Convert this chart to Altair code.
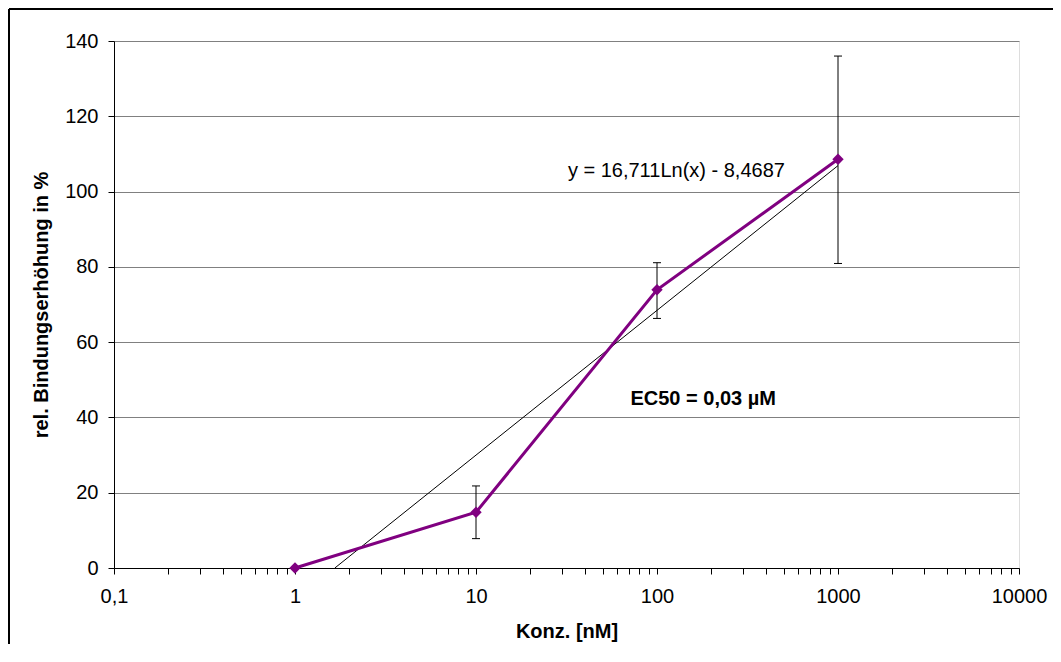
import altair as alt
import pandas as pd

# Measured series
conc = [1, 10, 100, 1000]
binding = [0.0, 14.8, 73.9, 108.6]
err_low = [0.0, 7.8, 66.3, 80.9]
err_high = [0.0, 21.8, 81.1, 136.0]

# Logarithmic trend line (as drawn, clipped at 0)
trend_x = [1.66, 1000]
trend_y = [0.0, 106.9]

major_ticks = [0.1, 1, 10, 100, 1000, 10000]
major_labels = ["0,1", "1", "10", "100", "1000", "10000"]
y_ticks = [0, 20, 40, 60, 80, 100, 120, 140]

equation_text = "y = 16,711Ln(x) - 8,4687"
equation_pos = (128, 105.5)
ec50_text = "EC50 = 0,03 µM"
ec50_pos = (180, 44.9)

FONT = "Liberation Sans"
FS = 20
PURPLE = "#800080"
W, H = 905, 527

minor_ticks = [m * 10 ** e for e in range(-1, 4) for m in range(1, 10)] + [10000]

label_expr = "".join(
    f"abs(datum.value - {v}) < {v * 1e-6} ? '{l}' : " for v, l in zip(major_ticks, major_labels)
) + "''"

xscale = alt.Scale(type="log", domain=[0.1, 10000], nice=False)
yscale = alt.Scale(domain=[0, 140], nice=False)

xaxis = alt.Axis(
    values=minor_ticks, labelExpr=label_expr, labelOverlap=False, labelFlush=False,
    grid=False, domainColor="black", tickColor="black", tickSize=6, tickWidth=1,
    labelFont=FONT, labelFontSize=FS, labelColor="black", labelPadding=12,
    title="Konz. [nM]", titleFont=FONT, titleFontSize=FS, titleFontWeight="bold",
    titleColor="black", titlePadding=15,
)
yaxis = alt.Axis(
    values=y_ticks, grid=True, gridColor="#808080", gridWidth=1,
    domainColor="black", tickColor="black", tickSize=6, tickWidth=1,
    labelFont=FONT, labelFontSize=FS, labelColor="black", labelPadding=10,
    title="rel. Bindungserhöhung in %", titleFont=FONT, titleFontSize=FS,
    titleFontWeight="bold", titleColor="black", titlePadding=13,
)

df = pd.DataFrame({"x": conc, "y": binding, "lo": err_low, "hi": err_high})
df_err = df[df["hi"] > df["lo"]]
df_trend = pd.DataFrame({"x": trend_x, "y": trend_y})
df_eq = pd.DataFrame({"x": [equation_pos[0]], "y": [equation_pos[1]], "t": [equation_text]})
df_ec = pd.DataFrame({"x": [ec50_pos[0]], "y": [ec50_pos[1]], "t": [ec50_text]})

trend = alt.Chart(df_trend).mark_line(color="black", strokeWidth=1).encode(
    x=alt.X("x:Q", scale=xscale, axis=xaxis),
    y=alt.Y("y:Q", scale=yscale, axis=yaxis),
)

err_rule = alt.Chart(df_err).mark_rule(color="black", strokeWidth=1).encode(
    x=alt.X("x:Q", scale=xscale), y=alt.Y("lo:Q", scale=yscale), y2="hi:Q"
)
cap_shape = "M -1 0 L 1 0"
cap_lo = alt.Chart(df_err).mark_point(shape=cap_shape, filled=False, stroke="black",
                                      strokeWidth=1, size=64, opacity=1).encode(
    x=alt.X("x:Q", scale=xscale), y=alt.Y("lo:Q", scale=yscale)
)
cap_hi = alt.Chart(df_err).mark_point(shape=cap_shape, filled=False, stroke="black",
                                      strokeWidth=1, size=64, opacity=1).encode(
    x=alt.X("x:Q", scale=xscale), y=alt.Y("hi:Q", scale=yscale)
)

line = alt.Chart(df).mark_line(color=PURPLE, strokeWidth=3).encode(
    x=alt.X("x:Q", scale=xscale), y=alt.Y("y:Q", scale=yscale)
)
pts = alt.Chart(df).mark_point(shape="diamond", filled=True, color=PURPLE, size=130, opacity=1).encode(
    x=alt.X("x:Q", scale=xscale), y=alt.Y("y:Q", scale=yscale)
)

eq = alt.Chart(df_eq).mark_text(font=FONT, fontSize=FS, color="black", align="center",
                                baseline="middle").encode(
    x=alt.X("x:Q", scale=xscale), y=alt.Y("y:Q", scale=yscale), text="t:N"
)
ec = alt.Chart(df_ec).mark_text(font=FONT, fontSize=FS, fontWeight="bold", color="black",
                                align="center", baseline="middle").encode(
    x=alt.X("x:Q", scale=xscale), y=alt.Y("y:Q", scale=yscale), text="t:N"
)

border_left = alt.Chart(df_eq).mark_rule(stroke="black", strokeWidth=2, clip=False).encode(
    x=alt.value(-105), y=alt.value(-32), y2=alt.value(620)
)
border_top = alt.Chart(df_eq).mark_rule(stroke="black", strokeWidth=2, clip=False).encode(
    x=alt.value(-105), x2=alt.value(1000), y=alt.value(-32)
)

chart = alt.layer(trend, err_rule, cap_lo, cap_hi, line, pts, eq, ec,
                  border_left, border_top).properties(
    width=W, height=H,
    autosize=alt.AutoSizeParams(type="none"),
    padding={"left": 106, "top": 33, "right": 34, "bottom": 76},
).configure_view(stroke="#808080", strokeWidth=1).configure(background="white")

chart.save("out.html", embed_options={"renderer": "svg", "actions": False})
